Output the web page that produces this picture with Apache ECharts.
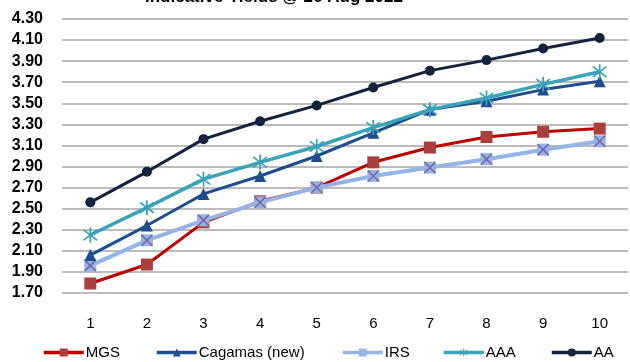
<!DOCTYPE html>
<html>
<head>
<meta charset="utf-8">
<script src="https://cdn.jsdelivr.net/npm/echarts@6/dist/echarts.min.js"></script>
<style>html,body{margin:0;padding:0;background:#fff}#c{width:630px;height:362px}</style>
</head>
<body>
<div id="c"></div>
<script>
const titleText = 'Indicative Yields @ 26 Aug 2022';
const categories = ['1','2','3','4','5','6','7','8','9','10'];
const yTicks = [1.70,1.90,2.10,2.30,2.50,2.70,2.90,3.10,3.30,3.50,3.70,3.90,4.10,4.30];
const seriesNames = ['MGS','Cagamas (new)','IRS','AAA','AA'];
const mgs     = [1.79,1.97,2.37,2.57,2.70,2.94,3.08,3.18,3.23,3.26];
const cagamas = [2.06,2.34,2.64,2.81,3.00,3.22,3.44,3.52,3.63,3.71];
const irs     = [1.96,2.20,2.39,2.56,2.70,2.81,2.89,2.97,3.06,3.14];
const aaa     = [2.25,2.51,2.78,2.94,3.09,3.27,3.44,3.55,3.68,3.80];
const aa      = [2.56,2.85,3.16,3.33,3.48,3.65,3.81,3.91,4.02,4.12];

const FONT = 'Liberation Sans';
const xPath = 'path://M-7.7,-6.3 L-6.3,-7.7 L7.7,6.3 L6.3,7.7 Z M6.3,-7.7 L7.7,-6.3 L-6.3,7.7 L-7.7,6.3 Z';
const starPath = 'path://M-0.9,-10 L0.9,-10 L0.9,10 L-0.9,10 Z M-7.7,-6.3 L-6.3,-7.7 L7.7,6.3 L6.3,7.7 Z M6.3,-7.7 L7.7,-6.3 L-6.3,7.7 L-7.7,6.3 Z';
const legendLefts = [42, 155, 341, 442, 550];

const chart = echarts.init(document.getElementById('c'), null, {renderer:'canvas'});
chart.setOption({
  animation: false,
  title: {
    text: titleText, left: 140, top: -16,
    textStyle: {fontFamily: FONT, fontSize: 17, fontWeight: 'bold', color: '#000'}
  },
  grid: {left: 62, right: 2, top: 19, bottom: 69, containLabel: false},
  legend: seriesNames.map((n, i) => ({
    left: legendLefts[i], top: 345, itemWidth: 40, itemHeight: 10, padding: 0,
    lineStyle: {width: 3.5},
    textStyle: {fontFamily: FONT, fontSize: 15, color: '#000', padding: [0,0,0,-3]},
    data: [n]
  })),
  xAxis: {
    type: 'category', data: categories, boundaryGap: true,
    axisLine: {show: false}, axisTick: {show: false},
    axisLabel: {fontFamily: FONT, fontSize: 15, color: '#000', margin: 23}
  },
  yAxis: {
    type: 'value', min: 1.7, max: 4.3, interval: 0.2,
    axisLine: {show: false}, axisTick: {show: false},
    splitLine: {lineStyle: {color: '#a6a6a6', width: 1.5}},
    axisLabel: {fontFamily: FONT, fontSize: 16, fontWeight: 'bold', color: '#000', margin: 19,
      formatter: v => v.toFixed(2)}
  },
  series: [
    {name: 'MGS', type: 'line', data: mgs, symbol: 'rect', symbolSize: 12,
     lineStyle: {color: '#c00000', width: 3}, itemStyle: {color: '#a9403d'}, z: 3},
    {name: 'IRS', type: 'line', data: irs, symbol: 'rect', symbolSize: 12,
     lineStyle: {color: '#95b3e3', width: 4}, itemStyle: {color: '#95b3e3'}, z: 4},
    {name: 'IRS_x', type: 'line', data: irs, symbol: xPath, symbolSize: 12, silent: true,
     lineStyle: {width: 0, opacity: 0}, itemStyle: {color: '#7a62a8'}, z: 5},
    {name: 'Cagamas (new)', type: 'line', data: cagamas, symbol: 'triangle', symbolSize: 12,
     lineStyle: {color: '#1f4e8c', width: 3}, itemStyle: {color: '#1f4e8c'}, z: 6},
    {name: 'AAA', type: 'line', data: aaa, symbol: starPath, symbolSize: 15,
     lineStyle: {color: '#3aa3b8', width: 3.5}, itemStyle: {color: '#3aa3b8'}, z: 7},
    {name: 'AA', type: 'line', data: aa, symbol: 'circle', symbolSize: 10,
     lineStyle: {color: '#14233d', width: 3}, itemStyle: {color: '#14233d'}, z: 8}
  ]
});
</script>
</body>
</html>
